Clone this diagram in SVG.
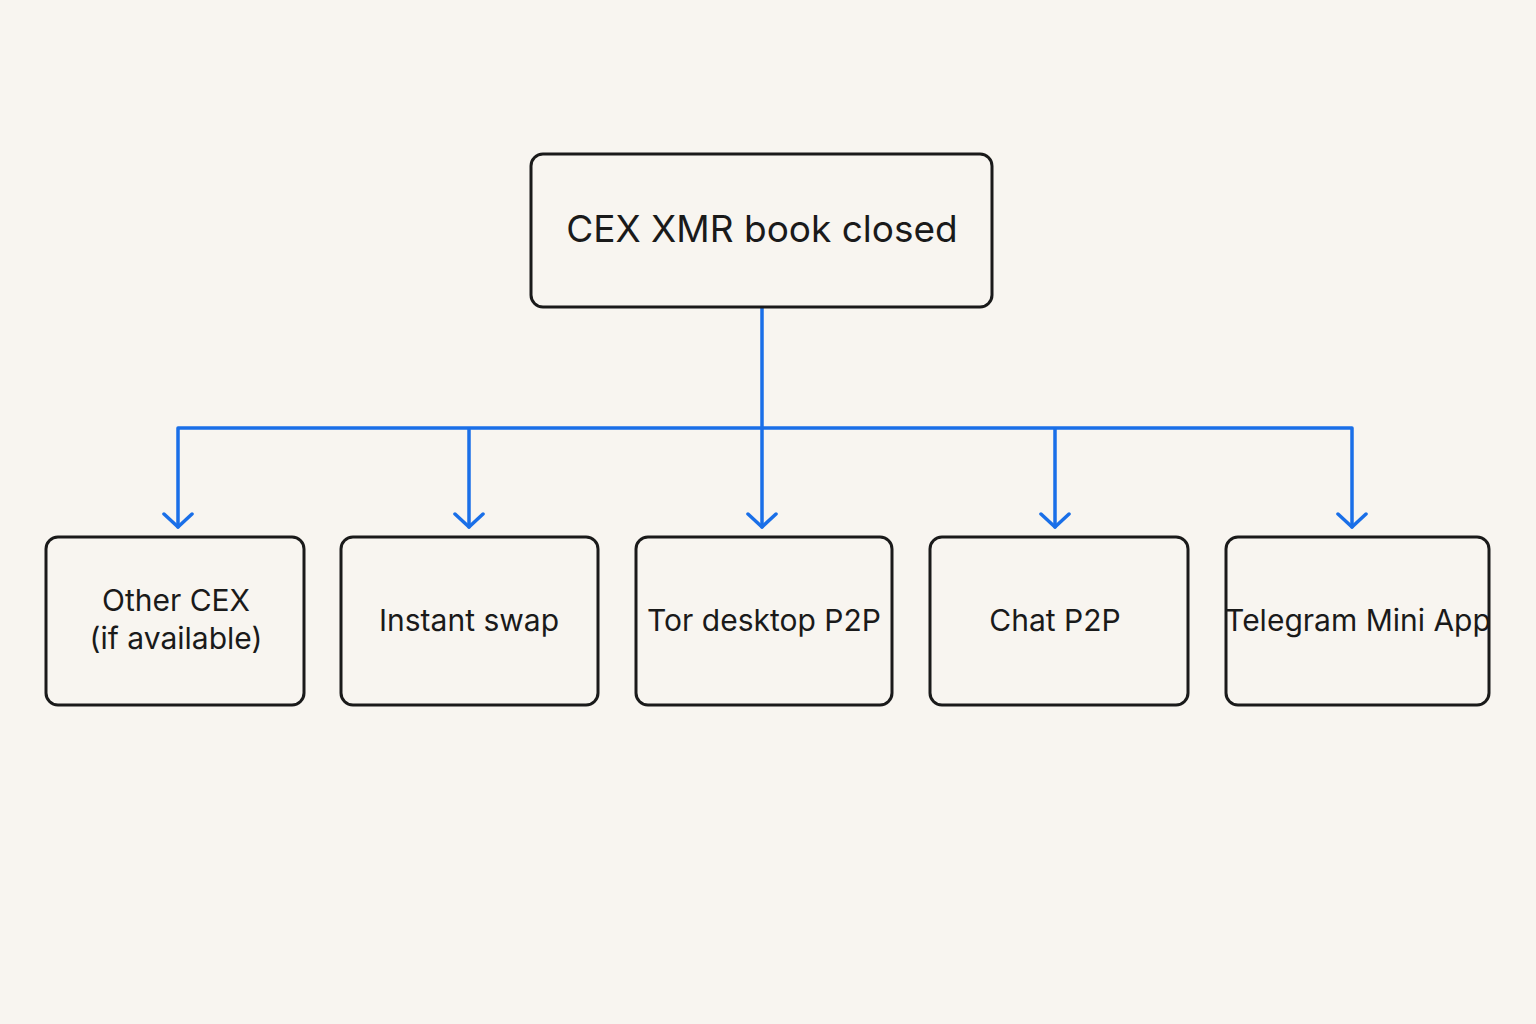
<svg xmlns="http://www.w3.org/2000/svg" width="1536" height="1024" viewBox="0 0 1536 1024">
<style>
.box{fill:#f8f5f0;stroke:#1a1a1a;stroke-width:3}
.t{font-family:Inter,"Liberation Sans",sans-serif;fill:#1a1a1a;text-anchor:middle}
.c{fill:none;stroke:#1a6fe8;stroke-width:3.5;stroke-linecap:round;stroke-linejoin:round}
</style>
<rect width="1536" height="1024" fill="#f8f5f0"/>
<g id="connectors">
<path class="c" d="M762 307V428M178 428H1352M178 428V527M469 428V527M762 428V527M1055 428V527M1352 428V527"/>
<path class="c" d="M164 514L178 527L192 514M455 514L469 527L483 514M748 514L762 527L776 514M1041 514L1055 527L1069 514M1338 514L1352 527L1366 514"/>
</g>
<g id="root"><rect class="box" x="531" y="154" width="461" height="153" rx="12"/><text class="t" x="762" y="242" font-size="37">CEX XMR book closed</text></g>
<g id="n1"><rect class="box" x="46" y="537" width="258" height="168" rx="12"/><text class="t" x="176" y="611" font-size="30">Other CEX</text><text class="t" x="176" y="649" font-size="30">(if available)</text></g>
<g id="n2"><rect class="box" x="341" y="537" width="257" height="168" rx="12"/><text class="t" x="469" y="631" font-size="30">Instant swap</text></g>
<g id="n3"><rect class="box" x="636" y="537" width="256" height="168" rx="12"/><text class="t" x="764" y="631" font-size="30">Tor desktop P2P</text></g>
<g id="n4"><rect class="box" x="930" y="537" width="258" height="168" rx="12"/><text class="t" x="1055" y="631" font-size="30">Chat P2P</text></g>
<g id="n5"><rect class="box" x="1226" y="537" width="263" height="168" rx="12"/><text class="t" x="1358" y="631" font-size="30">Telegram Mini App</text></g>
</svg>
